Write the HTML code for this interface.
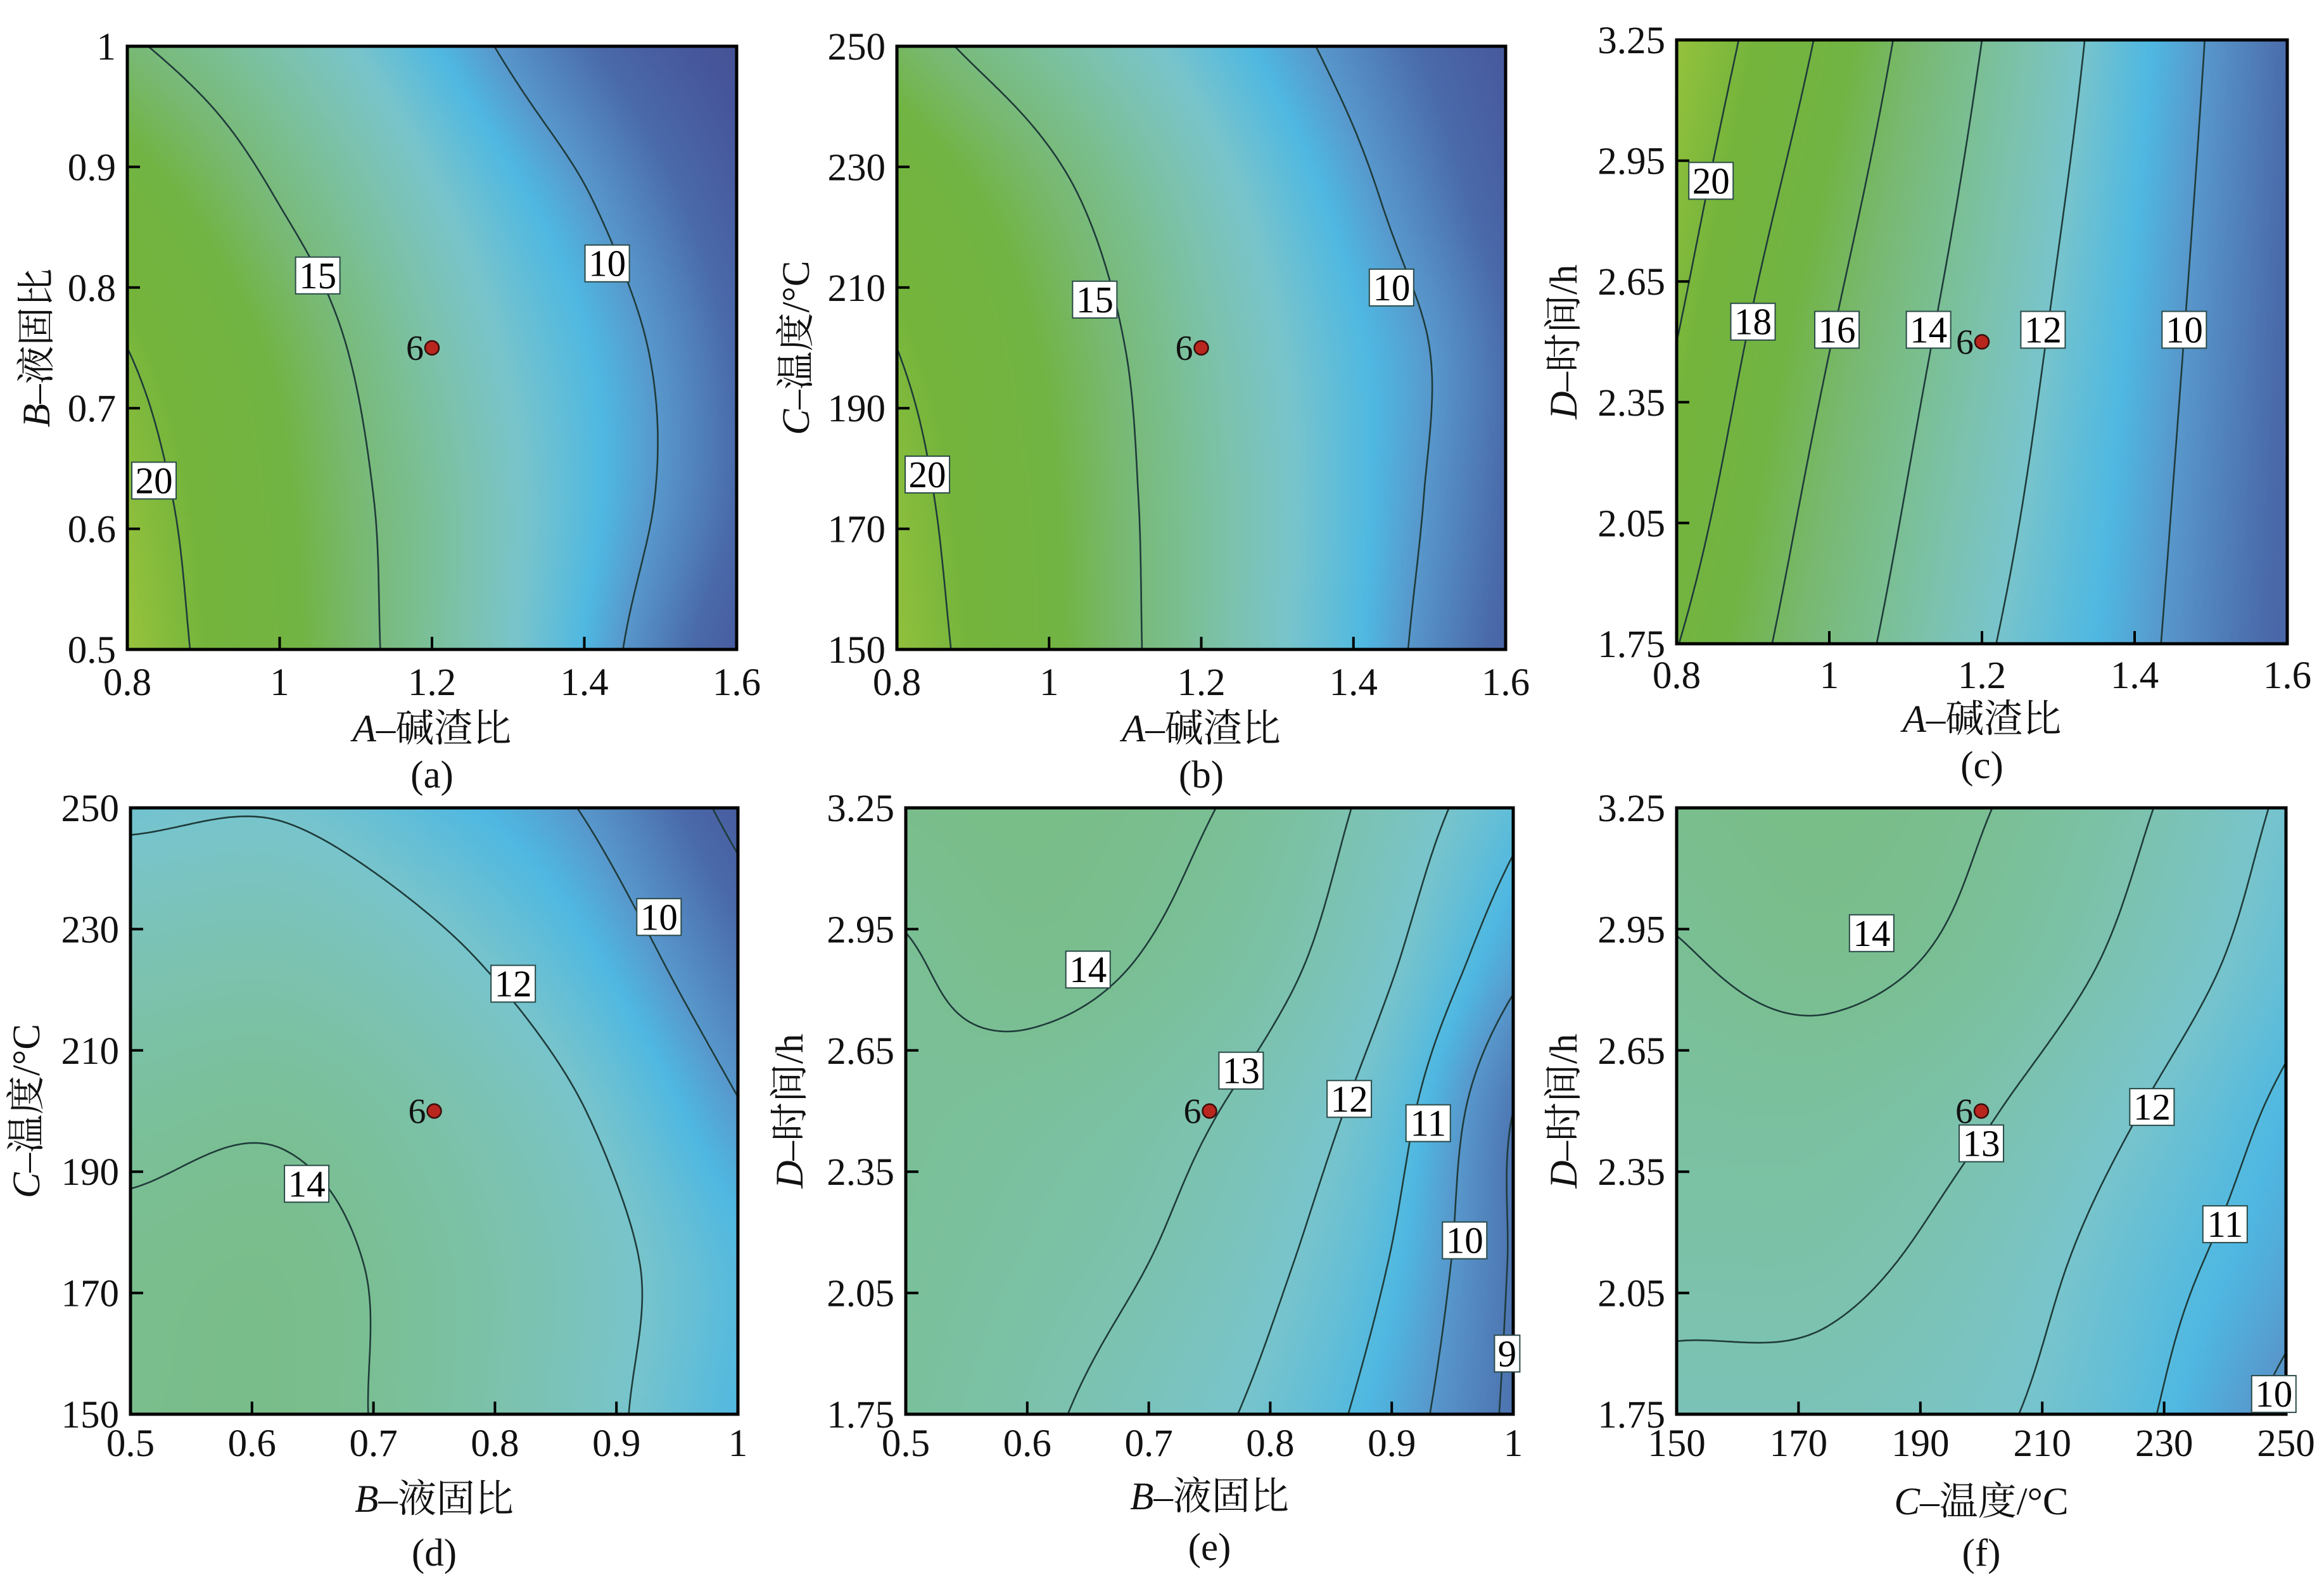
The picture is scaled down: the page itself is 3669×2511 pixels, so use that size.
<!DOCTYPE html>
<html><head><meta charset="utf-8">
<style>
html,body{margin:0;padding:0;background:#fff;}
#root{position:relative;width:3669px;height:2511px;overflow:hidden;background:#fff;}
canvas{position:absolute;}
svg{position:absolute;left:0;top:0;}
</style></head>
<body>
<div id="root">
<svg id="ov" width="3669" height="2511"></svg>
</div>
<script>
// ---------- DATA ----------
const aTicksX=[0.8,1,1.2,1.4,1.6];
const aTickLabelsX=["0.8","1","1.2","1.4","1.6"];
const aTicksY=[0.5,0.6,0.7,0.8,0.9,1];
const aTickLabelsY=["0.5","0.6","0.7","0.8","0.9","1"];
const aGridX=[0.8,0.9,1.0,1.1,1.2,1.3,1.4,1.5,1.6];
const aGridY=[0.5,0.625,0.75,0.875,1.0];
const aGrid=[
 [22,19.6,17.6,15.6,13.8,12.2,10.8,9.2,7.6],
 [21.2,19.2,17.3,15.4,13.8,12.3,11.1,9.9,8.5],
 [20,18.3,16.6,14.8,13.2,11.9,10.9,9.8,8.4],
 [18,16.5,14.9,13.5,12.2,11.1,10.1,8.9,7.6],
 [15.3,14.2,13.1,12.0,10.9,9.8,8.7,7.6,6.6]];
const aLevels=[10,15,20];
const aLabelVals=["15","10","20"];
const aLabelX=[1.05,1.43,0.835];
const aLabelY=[0.81,0.82,0.64];

const bTicksY=[150,170,190,210,230,250];
const bTickLabelsY=["150","170","190","210","230","250"];
const bGridX=[0.8,0.9,1.0,1.1,1.2,1.3,1.4,1.5,1.6];
const bGridY=[150,175,200,225,250];
const bGrid=[
 [21.5,19.4,17.4,15.4,13.7,12.2,11,9.6,8.2],
 [21,19,17.2,15.3,13.7,12.3,11.1,9.9,8.5],
 [20,18.4,16.7,15,13.4,12.1,11,10,8.6],
 [18.6,17.1,15.6,14.1,12.7,11.5,10.4,9.2,7.9],
 [16,14.7,13.6,12.5,11.5,10.5,9.5,8.4,7.3]];
const bLevels=[10,15,20];
const bLabelVals=["15","10","20"];
const bLabelX=[1.06,1.45,0.84];
const bLabelY=[208,210,179];

const cTicksY=[1.75,2.05,2.35,2.65,2.95,3.25];
const cTickLabelsY=["1.75","2.05","2.35","2.65","2.95","3.25"];
const cGridX=[0.8,0.9,1.0,1.1,1.2,1.3,1.4,1.5,1.6];
const cGridY=[1.75,2.5,3.25];
const cGrid=[
 [18.05,16.4,14.85,13.5,12.2,11.25,10.35,9.3,8.2],
 [20,17.8,16.05,14.5,13.1,11.8,10.7,9.6,8.4],
 [21.8,19.6,17.6,15.7,14.0,12.5,11.1,9.9,8.6]];
const cLevels=[10,12,14,16,18,20];
const cLabelVals=["20","18","16","14","12","10"];
const cLabelX=[0.845,0.9,1.01,1.13,1.28,1.465];
const cLabelY=[2.9,2.55,2.53,2.53,2.53,2.53];

const dTicksX=[0.5,0.6,0.7,0.8,0.9,1];
const dTickLabelsX=["0.5","0.6","0.7","0.8","0.9","1"];
const dGridX=[0.5,0.625,0.75,0.875,1.0];
const dGridY=[150,175,200,225,250];
const dGrid=[
 [14.3,14.35,13.6,12.4,10.9],
 [14.2,14.3,13.6,12.5,11.0],
 [13.7,13.85,13.2,12.0,10.1],
 [12.9,13.0,12.3,11.0,8.9],
 [11.8,11.9,11.1,9.9,7.6]];
const dLevels=[8,10,12,14];
const dLabelVals=["10","12","14"];
const dLabelX=[0.935,0.815,0.645];
const dLabelY=[232,221,188];

const eGridX=[0.5,0.6,0.7,0.8,0.9,1.0];
const eGridY=[1.75,2.125,2.5,2.875,3.25];
const eGrid=[
 [13.7,13.2,12.55,11.75,10.5,8.8],
 [13.8,13.45,13.0,12.2,10.95,8.9],
 [13.9,13.7,13.35,12.65,11.4,9.0],
 [13.95,14.25,13.95,13.3,12.1,10.3],
 [14.35,14.5,14.25,13.7,12.6,11.3]];
const eLevels=[9,10,11,12,13,14];
const eLabelVals=["14","13","12","11","10","9"];
const eLabelX=[0.65,0.776,0.865,0.93,0.96,0.995];
const eLabelY=[2.85,2.6,2.53,2.47,2.18,1.9];

const fGridX=[150,175,200,225,250];
const fGridY=[1.75,2.125,2.5,2.875,3.25];
const fTicksX=[150,170,190,210,230,250];
const fTickLabelsX=["150","170","190","210","230","250"];
const fGrid=[
 [12.75,12.7,12.2,11.2,9.7],
 [13.25,13.2,12.6,11.5,10.4],
 [13.6,13.6,13.1,12.05,10.8],
 [13.95,14.2,13.75,12.75,11.45],
 [14.25,14.5,14.05,13.15,11.85]];
const fLevels=[10,11,12,13,14];
const fLabelVals=["14","13","12","11","10"];
const fLabelX=[182,200,228,240,248];
const fLabelY=[2.94,2.42,2.51,2.22,1.8];

const pointX=[1.2,1.2,1.2,0.75,0.75,200];
const pointY=[0.75,200,2.5,200,2.5,2.5];

// colormap
const cmapV=[6,7,8.5,10,10.8,12,13,14,15.5,17,19.5,21.5,23];
const cmapC=["#44508f","#46559a","#4a6aaa","#5898cc","#4fb8e2","#78c4cc","#7cc2b0","#7abf94","#78b870","#72b444","#74b43c","#90c03c","#a8c840"];

// ---------- LAYOUT ----------
const panels=[
 {id:"a",box:[201,73,962,952],xr:[0.8,1.6],yr:[0.5,1],xt:aTicksX,xtl:aTickLabelsX,yt:aTicksY,ytl:aTickLabelsY,gx:aGridX,gy:aGridY,g:aGrid,lv:aLevels,lab:aLabelVals,lx:aLabelX,ly:aLabelY,xv:"A",xs:"–碱渣比",yv:"B",ys:"–液固比",cap:"(a)",xlb:1097,xtb:1170,cb:1243,ytx:58},
 {id:"b",box:[1416,73,961,952],xr:[0.8,1.6],yr:[150,250],xt:aTicksX,xtl:aTickLabelsX,yt:bTicksY,ytl:bTickLabelsY,gx:bGridX,gy:bGridY,g:bGrid,lv:bLevels,lab:bLabelVals,lx:bLabelX,ly:bLabelY,xv:"A",xs:"–碱渣比",yv:"C",ys:"–温度/°C",cap:"(b)",xlb:1097,xtb:1170,cb:1243,ytx:1257},
 {id:"c",box:[2647,63,964,953],xr:[0.8,1.6],yr:[1.75,3.25],xt:aTicksX,xtl:aTickLabelsX,yt:cTicksY,ytl:cTickLabelsY,gx:cGridX,gy:cGridY,g:cGrid,lv:cLevels,lab:cLabelVals,lx:cLabelX,ly:cLabelY,xv:"A",xs:"–碱渣比",yv:"D",ys:"–时间/h",cap:"(c)",xlb:1086,xtb:1155,cb:1228,ytx:2469},
 {id:"d",box:[206,1275,959,957],xr:[0.5,1],yr:[150,250],xt:dTicksX,xtl:dTickLabelsX,yt:bTicksY,ytl:bTickLabelsY,gx:dGridX,gy:dGridY,g:dGrid,lv:dLevels,lab:dLabelVals,lx:dLabelX,ly:dLabelY,xv:"B",xs:"–液固比",yv:"C",ys:"–温度/°C",cap:"(d)",xlb:2298,xtb:2386,cb:2471,ytx:42},
 {id:"e",box:[1430,1275,959,957],xr:[0.5,1],yr:[1.75,3.25],xt:dTicksX,xtl:dTickLabelsX,yt:cTicksY,ytl:cTickLabelsY,gx:eGridX,gy:eGridY,g:eGrid,lv:eLevels,lab:eLabelVals,lx:eLabelX,ly:eLabelY,xv:"B",xs:"–液固比",yv:"D",ys:"–时间/h",cap:"(e)",xlb:2298,xtb:2382,cb:2462,ytx:1247},
 {id:"f",box:[2647,1275,962,957],xr:[150,250],yr:[1.75,3.25],xt:fTicksX,xtl:fTickLabelsX,yt:cTicksY,ytl:cTickLabelsY,gx:fGridX,gy:fGridY,g:fGrid,lv:fLevels,lab:fLabelVals,lx:fLabelX,ly:fLabelY,xv:"C",xs:"–温度/°C",yv:"D",ys:"–时间/h",cap:"(f)",xlb:2298,xtb:2390,cb:2471,ytx:2469}
];

const NS="http://www.w3.org/2000/svg";
const ov=document.getElementById("ov");
const root=document.getElementById("root");
const SERIF='"Liberation Serif","Noto Serif CJK SC",serif';

function hex(c){return [parseInt(c.slice(1,3),16),parseInt(c.slice(3,5),16),parseInt(c.slice(5,7),16)];}
const cmapRGB=cmapC.map(hex);
function colorOf(v){
  if(v<=cmapV[0])return cmapRGB[0];
  for(let k=1;k<cmapV.length;k++){
    if(v<=cmapV[k]){const t=(v-cmapV[k-1])/(cmapV[k]-cmapV[k-1]);const a=cmapRGB[k-1],b=cmapRGB[k];return [a[0]+(b[0]-a[0])*t,a[1]+(b[1]-a[1])*t,a[2]+(b[2]-a[2])*t];}
  }
  return cmapRGB[cmapRGB.length-1];
}
function cr(p0,p1,p2,p3,t){return 0.5*((2*p1)+(-p0+p2)*t+(2*p0-5*p1+4*p2-p3)*t*t+(-p0+3*p1-3*p2+p3)*t*t*t);}
function makeInterp(g){
  const ny=g.length,nx=g[0].length;
  function rv(j,i){
    if(i<0)return 2*g[j][0]-g[j][1];
    if(i>nx-1)return 2*g[j][nx-1]-g[j][nx-2];
    return g[j][i];
  }
  function gv(j,i){
    if(j<0)return 2*rv(0,i)-rv(1,i);
    if(j>ny-1)return 2*rv(ny-1,i)-rv(ny-2,i);
    return rv(j,i);
  }
  return function(ci,cj){
    let i=Math.min(Math.floor(ci),nx-2),j=Math.min(Math.floor(cj),ny-2);
    if(i<0)i=0;if(j<0)j=0;
    const tx=ci-i,ty=cj-j;const rows=[];
    for(let m=-1;m<=2;m++){rows.push(cr(gv(j+m,i-1),gv(j+m,i),gv(j+m,i+1),gv(j+m,i+2),tx));}
    return cr(rows[0],rows[1],rows[2],rows[3],ty);
  };
}
function el(tag,attrs,parent){const e=document.createElementNS(NS,tag);for(const k in attrs)e.setAttribute(k,attrs[k]);(parent||ov).appendChild(e);return e;}

panels.forEach((P,pi)=>{
  const [x0,y0,w,h]=P.box;
  const sx=v=>x0+(v-P.xr[0])/(P.xr[1]-P.xr[0])*w;
  const sy=v=>y0+h-(v-P.yr[0])/(P.yr[1]-P.yr[0])*h;
  const f=makeInterp(P.g);
  const N=200;
  const F=[];
  const gdx=P.gx[1]-P.gx[0],gdy=P.gy[1]-P.gy[0];
  for(let j=0;j<=N;j++){const row=[];const yv=P.yr[0]+j/N*(P.yr[1]-P.yr[0]);
    for(let i=0;i<=N;i++){const xv=P.xr[0]+i/N*(P.xr[1]-P.xr[0]);row.push(f((xv-P.gx[0])/gdx,(yv-P.gy[0])/gdy));}
    F.push(row);}
  const cv=document.createElement("canvas");
  
  
  cv.width=N+1;cv.height=N+1;
  cv.style.left=x0+"px";cv.style.top=y0+"px";cv.style.width=w+"px";cv.style.height=h+"px";
  const ctx=cv.getContext("2d");const img=ctx.createImageData(N+1,N+1);
  for(let j=0;j<=N;j++)for(let i=0;i<=N;i++){const c=colorOf(F[j][i]);const o=((N-j)*(N+1)+i)*4;img.data[o]=c[0];img.data[o+1]=c[1];img.data[o+2]=c[2];img.data[o+3]=255;}
  ctx.putImageData(img,0,0);
  root.insertBefore(cv,ov);
  const gp=el("g",{});
  
  
  const px=i=>x0+i/N*w, py=j=>y0+h-j/N*h;
  P.lv.forEach(L=>{
    let d="";
    for(let j=0;j<N;j++)for(let i=0;i<N;i++){
      const v=[F[j][i],F[j][i+1],F[j+1][i+1],F[j+1][i]];
      const pts=[[i,j],[i+1,j],[i+1,j+1],[i,j+1]];
      const cross=[];
      for(let k=0;k<4;k++){const a=v[k],b=v[(k+1)%4];
        if((a<L)!==(b<L)){const t=(L-a)/(b-a);const pa=pts[k],pb=pts[(k+1)%4];cross.push([pa[0]+(pb[0]-pa[0])*t,pa[1]+(pb[1]-pa[1])*t]);}}
      for(let k=0;k+1<cross.length;k+=2){d+="M"+px(cross[k][0]).toFixed(1)+" "+py(cross[k][1]).toFixed(1)+"L"+px(cross[k+1][0]).toFixed(1)+" "+py(cross[k+1][1]).toFixed(1);}
    }
    const pe=el("path",{d:d,fill:"none",stroke:"#1f3b3a","stroke-width":"2.6","stroke-linecap":"round"},gp);
    
    
  });
  const fr=el("rect",{x:x0,y:y0,width:w,height:h,fill:"none",stroke:"#000","stroke-width":"5"},gp);
  
  
  P.xt.forEach((t,k)=>{
    const X=sx(t);
    const tk=el("line",{x1:X,y1:y0+h,x2:X,y2:y0+h-20,stroke:"#000","stroke-width":"4"},gp);
    
    
    const tl=el("text",{x:X,y:P.xlb,"text-anchor":"middle","font-size":"61","font-family":SERIF,fill:"#111"},gp);
    tl.textContent=P.xtl[k];
    
    
  });
  P.yt.forEach((t,k)=>{
    const Y=sy(t);
    const tk=el("line",{x1:x0,y1:Y,x2:x0+20,y2:Y,stroke:"#000","stroke-width":"4"},gp);
    
    
    const tl=el("text",{x:x0-18,y:Y+21,"text-anchor":"end","font-size":"61","font-family":SERIF,fill:"#111"},gp);
    tl.textContent=P.ytl[k];
    
    
  });
  P.lab.forEach((s,k)=>{
    const X=sx(P.lx[k]),Y=sy(P.ly[k]);
    const bw=s.length*30+10,bh=58;
    const r=el("rect",{x:X-bw/2,y:Y-bh/2,width:bw,height:bh,fill:"#fff",stroke:"#2a4a48","stroke-width":"2"},gp);
    
    
    const t=el("text",{x:X,y:Y+20,"text-anchor":"middle","font-size":"59","font-family":SERIF,fill:"#000"},gp);
    t.textContent=s;
    
    
  });
  const cxp=sx(pointX[pi]),cyp=sy(pointY[pi]);
  const c=el("circle",{cx:cxp,cy:cyp,r:11,fill:"#b8261e",stroke:"#3a0d0a","stroke-width":"2.5"},gp);
  
  
  const ct=el("text",{x:cxp-13,y:cyp+19,"text-anchor":"end","font-size":"56","font-family":SERIF,fill:"#111"},gp);
  ct.textContent="6";
  
  
  const xt=el("text",{x:x0+w/2,y:P.xtb,"text-anchor":"middle","font-size":"61","font-family":SERIF,fill:"#111"},gp);
  
  
  const xi=el("tspan",{"font-style":"italic"},xt);xi.textContent=P.xv;
  const xr=el("tspan",{},xt);xr.textContent=P.xs;
  const yc=y0+h/2;
  const yt=el("text",{x:P.ytx,y:yc,"text-anchor":"middle","font-size":"61","font-family":SERIF,fill:"#111",transform:"rotate(-90 "+P.ytx+" "+yc+")","dominant-baseline":"central"},gp);
  
  
  const yi=el("tspan",{"font-style":"italic"},yt);yi.textContent=P.yv;
  const yr=el("tspan",{},yt);yr.textContent=P.ys;
  const cp=el("text",{x:x0+w/2,y:P.cb,"text-anchor":"middle","font-size":"61","font-family":SERIF,fill:"#111"},gp);
  cp.textContent=P.cap;
  
  
});
</script>
</body></html>
